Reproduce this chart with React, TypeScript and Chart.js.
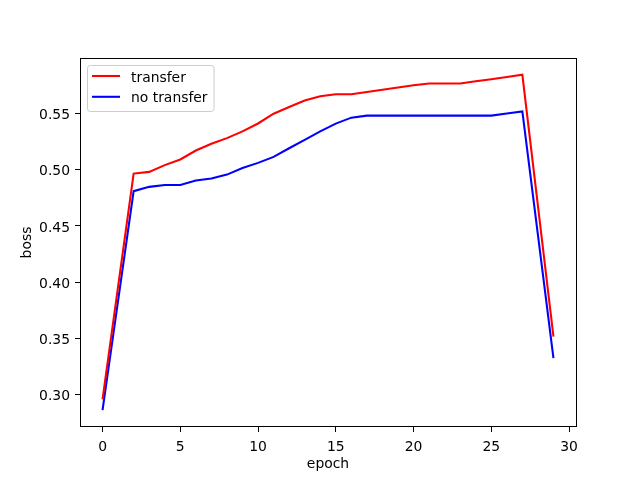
import React, { useEffect, useRef } from "react";
import { Chart, registerables } from "chart.js";

Chart.register(...registerables);

// ---- data ----
const epochs = [0, 2, 3, 4, 5, 6, 7, 8, 9, 10, 11, 12, 13, 14, 15, 16, 17, 18, 19, 20, 21, 22, 23, 24, 25, 26, 27, 29];
const transferLoss = [
  0.2958, 0.4965, 0.498, 0.504, 0.509, 0.517, 0.523, 0.528, 0.534, 0.541, 0.5497, 0.5556, 0.5615, 0.5653,
  0.567, 0.567, 0.569, 0.571, 0.573, 0.575, 0.5766, 0.5766, 0.5766, 0.5785, 0.5804, 0.5823, 0.5843, 0.3517,
];
const noTransferLoss = [
  0.2862, 0.4809, 0.4847, 0.4864, 0.4864, 0.4903, 0.4921, 0.4956, 0.5015, 0.506, 0.5113, 0.519, 0.5265, 0.534,
  0.5409, 0.5462, 0.548, 0.548, 0.548, 0.548, 0.548, 0.548, 0.548, 0.548, 0.548, 0.5499, 0.5518, 0.3325,
];
const seriesLabels = ["transfer", "no transfer"];
const seriesColors = ["#ff0000", "#0000ff"];
const xTickValues = [0, 5, 10, 15, 20, 25, 30];
const yTickValues = [0.3, 0.35, 0.4, 0.45, 0.5, 0.55];
const xTitle = "epoch";
const yTitle = "boss";

const FONT = { family: "'DejaVu Sans', sans-serif", size: 13.9 };

function paddedRange(values: number[]) {
  const lo = Math.min(...values);
  const hi = Math.max(...values);
  const m = (hi - lo) * 0.05;
  return [lo - m, hi + m];
}

const framePlugin = {
  id: "mplFrame",
  afterDatasetsDraw(chart: any) {
    const { ctx, chartArea: a } = chart;
    ctx.save();
    ctx.strokeStyle = "#000";
    ctx.lineWidth = 1;
    const l = Math.round(a.left) + 0.5;
    const t = Math.round(a.top) + 0.5;
    const r = Math.round(a.right) + 0.5;
    const b = Math.round(a.bottom) - 0.5;
    ctx.strokeRect(l, t, r - l, b - t);
    ctx.restore();
  },
};

const legendPlugin = {
  id: "mplLegend",
  afterDraw(chart: any) {
    const { ctx, chartArea: a } = chart;
    const x0 = a.left + 7.5;
    const y0 = a.top + 7.5;
    ctx.save();
    ctx.beginPath();
    ctx.roundRect(x0, y0, 126.5, 46, 2.8);
    ctx.fillStyle = "rgba(255,255,255,0.8)";
    ctx.fill();
    ctx.strokeStyle = "#cccccc";
    ctx.lineWidth = 1;
    ctx.stroke();
    chart.data.datasets.forEach((ds: any, i: number) => {
      const y = a.top + 18 + i * 20.8;
      ctx.beginPath();
      ctx.moveTo(a.left + 12, y);
      ctx.lineTo(a.left + 40, y);
      ctx.strokeStyle = ds.borderColor;
      ctx.lineWidth = 2.08;
      ctx.stroke();
      ctx.fillStyle = "#000";
      ctx.font = `${FONT.size}px ${FONT.family}`;
      ctx.textBaseline = "alphabetic";
      ctx.textAlign = "left";
      ctx.fillText(ds.label, a.left + 51, y + 5.6);
    });
    ctx.restore();
  },
};

export default function App() {
  const canvasRef = useRef<HTMLCanvasElement | null>(null);

  useEffect(() => {
    if (!canvasRef.current) return;
    const [xmin, xmax] = paddedRange(epochs);
    const [ymin, ymax] = paddedRange([...transferLoss, ...noTransferLoss]);
    const series = [transferLoss, noTransferLoss];
    const chart = new Chart(canvasRef.current, {
      type: "line",
      data: {
        datasets: series.map((vals, i) => ({
          label: seriesLabels[i],
          data: epochs.map((e, j) => ({ x: e, y: vals[j] })),
          borderColor: seriesColors[i],
          backgroundColor: seriesColors[i],
          borderWidth: 2.08,
          pointRadius: 0,
          tension: 0,
          fill: false,
        })),
      },
      options: {
        animation: false,
        responsive: false,
        devicePixelRatio: 1,
        layout: { padding: { top: 58, right: 64, left: 0, bottom: 0 } },
        plugins: {
          legend: { display: false },
          tooltip: { enabled: false },
        },
        scales: {
          x: {
            type: "linear",
            min: xmin,
            max: xmax,
            afterBuildTicks: (scale: any) => {
              scale.ticks = xTickValues.map((v) => ({ value: v }));
            },
            afterFit: (scale: any) => {
              scale.height = 53;
            },
            grid: { drawOnChartArea: false, drawTicks: true, tickLength: 5, tickColor: "#000", tickWidth: 1 },
            border: { display: false },
            ticks: {
              color: "#000",
              font: FONT,
              padding: 7,
              maxRotation: 0,
              autoSkip: false,
              callback: (v: any) => String(v),
            },
            title: {
              display: true,
              text: xTitle,
              color: "#000",
              font: FONT,
              padding: { top: 0, bottom: 7.5 },
            },
          },
          y: {
            type: "linear",
            min: ymin,
            max: ymax,
            afterBuildTicks: (scale: any) => {
              scale.ticks = yTickValues.map((v) => ({ value: v }));
            },
            afterFit: (scale: any) => {
              scale.width = 80;
            },
            grid: { drawOnChartArea: false, drawTicks: true, tickLength: 5, tickColor: "#000", tickWidth: 1 },
            border: { display: false },
            ticks: {
              color: "#000",
              font: FONT,
              padding: 5,
              labelOffset: 2,
              autoSkip: false,
              callback: (v: any) => Number(v).toFixed(2),
            },
            title: {
              display: true,
              text: yTitle,
              color: "#000",
              font: FONT,
              padding: { top: 18.7, bottom: 0 },
            },
          },
        },
      },
      plugins: [framePlugin, legendPlugin],
    } as any);
    return () => chart.destroy();
  }, []);

  return (
    <div style={{ position: "absolute", left: 0, top: 0, width: 640, height: 480, background: "#fff" }}>
      <canvas ref={canvasRef} width={640} height={480} style={{ display: "block" }} />
    </div>
  );
}
